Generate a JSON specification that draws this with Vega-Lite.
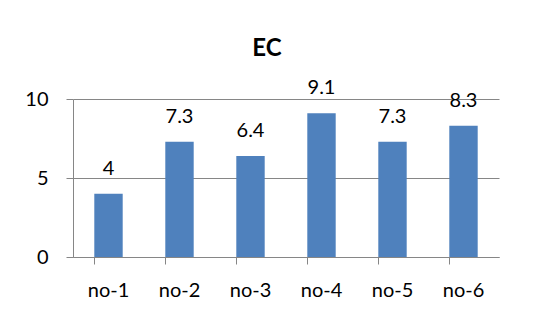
{
  "$schema": "https://vega.github.io/schema/vega-lite/v6.json",
  "width": 426,
  "height": 158,
  "autosize": {"type": "none"},
  "padding": {"left": 73, "top": 99, "right": 46, "bottom": 63},
  "background": "white",
  "title": {
    "text": "EC",
    "font": "Lato",
    "fontSize": 24,
    "fontWeight": "bold",
    "color": "black",
    "anchor": "middle",
    "dx": -19,
    "offset": 17
  },
  "data": {
    "values": [
      {"sample": "no-1", "EC": 4},
      {"sample": "no-2", "EC": 7.3},
      {"sample": "no-3", "EC": 6.4},
      {"sample": "no-4", "EC": 9.1},
      {"sample": "no-5", "EC": 7.3},
      {"sample": "no-6", "EC": 8.3}
    ]
  },
  "encoding": {
    "x": {
      "field": "sample",
      "type": "nominal",
      "sort": null,
      "scale": {"paddingInner": 0.6, "paddingOuter": 0.3},
      "axis": {
        "title": null,
        "labelAngle": 0,
        "labelFont": "Lato",
        "labelFontSize": 20,
        "labelColor": "black",
        "labelPadding": 16,
        "bandPosition": 0,
        "tickSize": 7,
        "tickColor": "#868686",
        "domainColor": "#868686",
        "grid": false
      }
    },
    "y": {
      "field": "EC",
      "type": "quantitative",
      "scale": {"domain": [0, 10]},
      "axis": {
        "title": null,
        "values": [0, 5, 10],
        "labelFont": "Lato",
        "labelFontSize": 20,
        "labelColor": "black",
        "labelPadding": 18,
        "tickSize": 7,
        "tickColor": "#868686",
        "domainColor": "#868686",
        "gridColor": "#868686"
      }
    }
  },
  "layer": [
    {"mark": {"type": "bar", "color": "#4F81BD"}},
    {
      "mark": {
        "type": "text",
        "baseline": "alphabetic",
        "dy": -19,
        "font": "Lato",
        "fontSize": 20,
        "color": "black"
      },
      "encoding": {"text": {"field": "EC", "type": "quantitative"}}
    }
  ],
  "config": {"view": {"stroke": null}}
}
